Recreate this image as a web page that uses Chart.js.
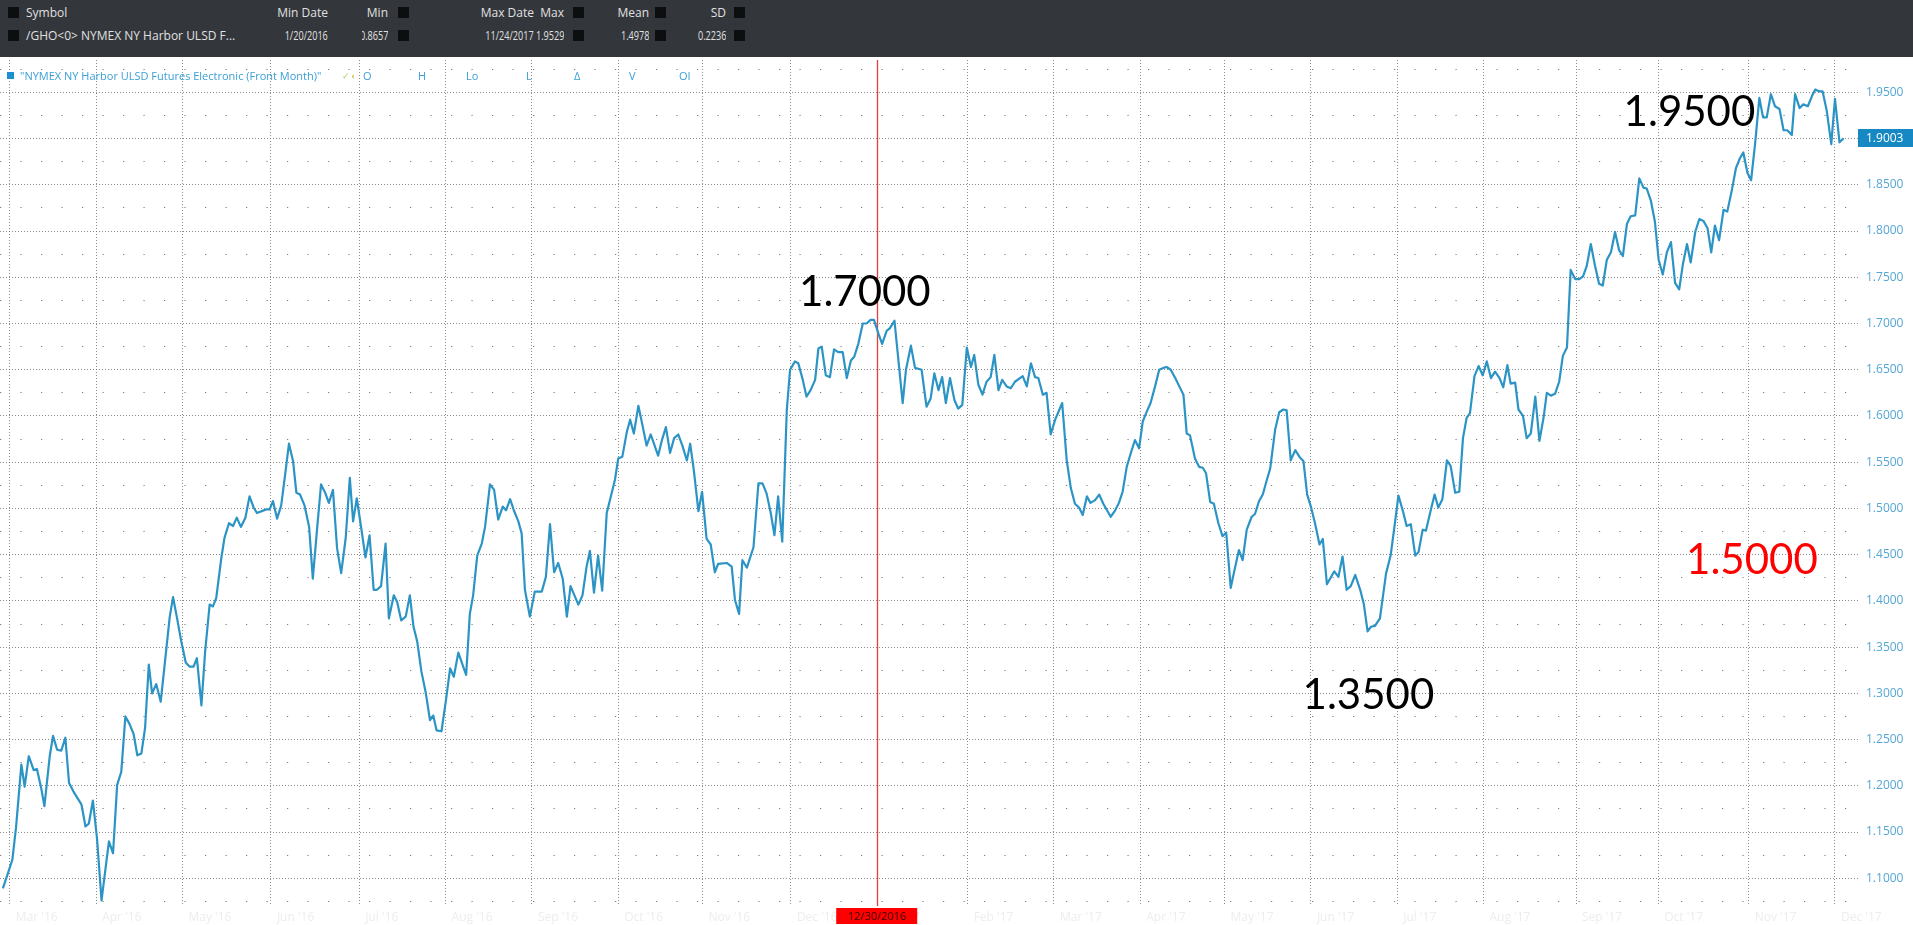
<!DOCTYPE html>
<html>
<head>
<meta charset="utf-8">
<title>NYMEX NY Harbor ULSD Futures Electronic (Front Month)</title>
<script src="https://cdn.jsdelivr.net/npm/chart.js@4.4.1/dist/chart.umd.min.js"></script>
<style>
  html, body { margin: 0; padding: 0; background: #fff; width: 1913px; height: 925px; overflow: hidden; font-family: "Open Sans", sans-serif; }
  #wrap { position: absolute; left: 0; top: 0; width: 1913px; height: 925px; }
  #hdr { position: absolute; left: 0; top: 0; width: 1913px; height: 57px; background: #33363b; color: #e0e0e0; font-size: 12px; z-index: 2; }
  .c { position: absolute; white-space: nowrap; line-height: 16px; }
  .r { text-align: right; }
  .n { height: 16px; overflow: hidden; font-size: 12px; }
  .n span { position: absolute; right: 0; top: 0; transform: scaleX(.76); transform-origin: right center; }
  .sq { position: absolute; width: 11px; height: 11px; background: #0d0e10; }
  #legend { position: absolute; left: 0; top: 68px; height: 16px; font-size: 11px; color: #3a9fd6; z-index: 2; }
</style>
</head>
<body>
<div id="wrap"><canvas id="chart"></canvas></div>

<div id="hdr">
  <div class="sq" style="left:8px;top:7px"></div>
  <div class="c" style="left:26px;top:5px">Symbol</div>
  <div class="c r" style="left:228px;top:5px;width:100px">Min Date</div>
  <div class="c r" style="left:340px;top:5px;width:48px">Min</div>
  <div class="sq" style="left:398px;top:7px"></div>
  <div class="c r" style="left:434px;top:5px;width:100px">Max Date</div>
  <div class="c r" style="left:520px;top:5px;width:44px">Max</div>
  <div class="sq" style="left:573px;top:7px"></div>
  <div class="c r" style="left:600px;top:5px;width:49px">Mean</div>
  <div class="sq" style="left:655px;top:7px"></div>
  <div class="c r" style="left:690px;top:5px;width:36px">SD</div>
  <div class="sq" style="left:734px;top:7px"></div>

  <div class="sq" style="left:8px;top:30px"></div>
  <div class="c" style="left:26px;top:28px">/GHO&lt;0&gt; NYMEX NY Harbor ULSD F...</div>
  <div class="c n" style="left:228px;top:28px;width:100px"><span>1/20/2016</span></div>
  <div class="c n" style="left:362px;top:28px;width:26px"><span>0.8657</span></div>
  <div class="sq" style="left:398px;top:30px"></div>
  <div class="c n" style="left:434px;top:28px;width:100px"><span>11/24/2017</span></div>
  <div class="c n" style="left:536px;top:28px;width:28px"><span>1.9529</span></div>
  <div class="sq" style="left:573px;top:30px"></div>
  <div class="c n" style="left:600px;top:28px;width:49px"><span>1.4978</span></div>
  <div class="sq" style="left:655px;top:30px"></div>
  <div class="c n" style="left:680px;top:28px;width:46px"><span>0.2236</span></div>
  <div class="sq" style="left:734px;top:30px"></div>
</div>

<div id="legend">
  <div class="c" style="left:7px;top:4px;width:7px;height:7px;background:#1e8fd0"></div>
  <div class="c" style="left:20px;top:0">"NYMEX NY Harbor ULSD Futures Electronic (Front Month)"</div>
  <div class="c" style="left:342px;top:0;font-size:9px;color:#a5d36b">✓</div>
  <div class="c" style="left:351px;top:0;font-size:9px;color:#d8cf6a">◐</div>
  <div class="c" style="left:363px;top:0">O</div>
  <div class="c" style="left:418px;top:0">H</div>
  <div class="c" style="left:466px;top:0">Lo</div>
  <div class="c" style="left:526px;top:0">L</div>
  <div class="c" style="left:574px;top:0">Δ</div>
  <div class="c" style="left:629px;top:0">V</div>
  <div class="c" style="left:679px;top:0">OI</div>
</div>

<script>
// x axis = trading days counted from the first session of March 2016
var monthTicks = [0, 21, 42, 63.5, 85, 106, 127, 148, 168.5, 190, 211, 233,
                  254, 275, 295.5, 316.5, 337.5, 358.5, 381, 401, 423, 444];
var monthLabels = ["Mar '16", "Apr '16", "May '16", "Jun '16", "Jul '16", "Aug '16",
                   "Sep '16", "Oct '16", "Nov '16", "Dec '16", "Jan '17", "Feb '17",
                   "Mar '17", "Apr '17", "May '17", "Jun '17", "Jul '17", "Aug '17",
                   "Sep '17", "Oct '17", "Nov '17", "Dec '17"];

// price (USD/gal)
var tradingDay = [
  -1.7, -0.5, 0.6, 1.5, 2.8, 3.6, 4.6, 5.8, 6.6, 7.6,
  8.4, 9.7, 10.5, 11.5, 12.5, 13.5, 14.4, 15.7, 17.4, 18.4,
  19.2, 20.2, 21.2, 22.3, 24.1, 25.1, 26.1, 27.1, 28.1, 29.1,
  30.1, 31.0, 32.0, 32.9, 33.8, 34.6, 35.6, 36.7, 37.8, 38.9,
  39.7, 40.6, 41.7, 42.8, 43.7, 44.7, 45.5, 46.6, 47.5, 48.6,
  49.4, 50.2, 51.4, 52.2, 53.3, 54.3, 55.2, 56.2, 57.3, 58.3,
  59.3, 60.1, 62.4, 63.2, 64.0, 65.0, 66.0, 67.0, 67.9, 68.9,
  69.7, 70.6, 71.7, 72.8, 73.7, 74.7, 75.7, 76.7, 77.6, 78.6,
  79.6, 80.6, 81.7, 82.7, 83.5, 84.4, 85.5, 86.5, 87.5, 88.5,
  89.3, 90.3, 91.4, 92.2, 93.4, 94.2, 95.2, 96.3, 97.3, 98.2,
  99.1, 100.1,
  101.2, 102.2, 103.0, 103.8, 105.0, 106.1, 107.1, 108.0, 109.1, 110.2,
  111.0, 111.9, 112.7, 113.7, 114.8, 115.6, 116.8, 117.8, 118.8, 119.9,
  120.7, 121.7, 122.6, 123.7, 124.5, 125.3, 126.5, 127.7, 129.4, 130.4,
  131.4, 132.4, 133.4, 134.5, 135.5, 136.4, 138.3, 139.3, 140.3, 141.1,
  142.1, 143.1, 144.1, 145.2, 146.2, 147.2, 148.0, 149.0, 150.1, 150.9,
  151.8, 152.9, 153.8, 154.9, 155.9, 157.7, 158.7, 159.6, 160.6, 161.6,
  162.6, 163.6, 164.7, 165.5, 166.4, 167.5, 168.4, 169.5, 170.5, 171.5,
  172.3, 174.4, 175.6, 176.4, 177.4, 178.2, 179.3, 180.9, 182.1, 183.1,
  184.1, 185.1, 186.0, 186.9, 187.9, 189.0, 189.8, 191.0, 191.8, 192.9,
  193.8, 194.8, 195.9, 196.7, 197.5, 198.5, 199.5, 200.5, 201.5, 202.6,
  203.6, 204.6, 205.4, 206.4, 207.5, 208.4, 209.4, 210.2, 211.3, 212.2,
  213.3, 214.1, 215.2,
  217.2, 218.0, 219.2, 220.2, 221.8, 223.0, 224.0, 224.9, 225.9, 226.8,
  227.7, 228.7, 229.8, 230.7, 231.7, 232.8, 233.8, 234.6, 235.6, 236.6,
  237.6, 238.6, 239.5, 240.5, 241.4, 242.5, 243.5, 244.5, 246.4, 247.4,
  248.4, 249.4, 250.2, 251.3, 252.2, 253.2, 254.3, 256.0, 257.1, 258.1,
  259.1, 260.1, 261.0, 262.0, 262.9, 264.0, 265.0, 266.0, 267.8, 268.9,
  269.8, 270.7, 271.7, 272.7, 273.7, 274.7, 275.6, 276.6, 277.5, 278.6,
  279.6, 280.6, 281.4, 282.4, 283.5, 284.5, 285.5, 286.3, 287.1, 288.3,
  289.3, 290.2, 291.0, 292.0, 292.9, 294.0, 295.0, 295.9, 297.0, 297.9,
  299.0, 299.9, 300.9, 302.1, 302.9, 303.9, 304.8, 305.8, 306.6, 307.8,
  308.8, 309.8, 310.6, 311.6, 312.7, 313.7, 314.7, 315.6, 316.5, 317.5,
  318.6, 319.4, 320.4, 321.3, 322.2, 323.2, 324.2, 325.2, 326.2, 327.3,
  328.5, 329.4, 330.3, 331.1, 332.1, 333.3,
  334.8, 335.9, 337.0, 337.8, 338.9, 339.8, 340.8, 341.9, 342.7, 343.7,
  344.5, 345.5, 346.6, 347.5, 348.5, 349.6, 350.5, 351.6, 352.6, 353.5,
  354.4, 355.2, 356.3, 357.3, 358.3, 359.3, 360.3, 361.3, 362.4, 363.3,
  364.3, 365.1, 366.2, 367.0, 368.1, 369.0, 370.0, 371.1, 372.1, 373.1,
  373.9, 374.9, 375.9, 376.9, 377.8, 378.8, 379.7, 380.8, 381.8, 382.7,
  383.6, 384.6, 385.6, 386.6, 387.5, 388.5, 389.5, 390.5, 391.5, 392.4,
  393.4, 394.3, 395.4, 396.4, 397.4, 398.2, 399.2, 400.2, 401.1, 402.1,
  403.1, 404.1, 405.1, 406.1, 407.0, 408.0, 408.9, 410.0, 411.0, 412.0,
  413.0, 413.9, 414.8, 415.8, 416.9, 417.8, 418.9, 419.9, 420.9, 421.7,
  422.7, 423.6, 424.6, 425.6, 426.5, 427.4, 428.4, 429.4, 430.5, 431.5,
  432.4, 433.5, 434.3, 435.4, 436.3, 437.4, 438.4, 439.2, 440.2, 441.0,
  442.0, 443.1, 444.0, 445.1, 446.1
];
var settle = [
  1.089, 1.105, 1.120, 1.155, 1.223, 1.199, 1.232, 1.217, 1.218, 1.198,
  1.178, 1.232, 1.254, 1.239, 1.238, 1.252, 1.203, 1.192, 1.180, 1.156,
  1.159, 1.184, 1.143, 1.076, 1.140, 1.127, 1.201, 1.215, 1.275, 1.267,
  1.256, 1.233, 1.235, 1.263, 1.331, 1.300, 1.310, 1.291, 1.337, 1.383,
  1.404, 1.383, 1.356, 1.333, 1.329, 1.329, 1.338, 1.287, 1.345, 1.396,
  1.394, 1.403, 1.445, 1.468, 1.484, 1.481, 1.490, 1.480, 1.490, 1.513,
  1.501, 1.495, 1.499, 1.499, 1.508, 1.489, 1.503, 1.538, 1.570, 1.551,
  1.517, 1.515, 1.503, 1.480, 1.424, 1.476, 1.526, 1.517, 1.506, 1.520,
  1.457, 1.430, 1.468, 1.533, 1.486, 1.511, 1.478, 1.447, 1.471, 1.412,
  1.412, 1.416, 1.462, 1.381, 1.406, 1.399, 1.379, 1.383, 1.406, 1.372,
  1.356, 1.324,
  1.300, 1.271, 1.276, 1.260, 1.259, 1.293, 1.327, 1.318, 1.344, 1.330,
  1.320, 1.386, 1.406, 1.449, 1.462, 1.480, 1.526, 1.520, 1.488, 1.502,
  1.498, 1.510, 1.498, 1.486, 1.473, 1.412, 1.383, 1.410, 1.410, 1.426,
  1.483, 1.431, 1.441, 1.424, 1.383, 1.416, 1.396, 1.406, 1.437, 1.454,
  1.409, 1.449, 1.411, 1.495, 1.513, 1.531, 1.554, 1.556, 1.583, 1.596,
  1.581, 1.611, 1.592, 1.568, 1.580, 1.557, 1.575, 1.588, 1.560, 1.576,
  1.580, 1.568, 1.552, 1.570, 1.541, 1.497, 1.518, 1.467, 1.461, 1.431,
  1.440, 1.441, 1.437, 1.401, 1.386, 1.444, 1.436, 1.458, 1.527, 1.527,
  1.516, 1.495, 1.471, 1.513, 1.464, 1.606, 1.650, 1.659, 1.657, 1.639,
  1.621, 1.628, 1.639, 1.673, 1.675, 1.644, 1.642, 1.672, 1.669, 1.669,
  1.641, 1.660, 1.664, 1.678, 1.700, 1.700, 1.704, 1.704, 1.689, 1.678,
  1.692, 1.695, 1.703,
  1.614, 1.650, 1.676, 1.652, 1.650, 1.610, 1.619, 1.646, 1.628, 1.642,
  1.614, 1.641, 1.617, 1.608, 1.612, 1.674, 1.653, 1.666, 1.634, 1.623,
  1.637, 1.642, 1.666, 1.628, 1.639, 1.632, 1.630, 1.637, 1.643, 1.632,
  1.657, 1.642, 1.641, 1.623, 1.625, 1.580, 1.596, 1.614, 1.552, 1.522,
  1.505, 1.501, 1.493, 1.513, 1.506, 1.509, 1.515, 1.505, 1.491, 1.498,
  1.506, 1.518, 1.545, 1.560, 1.574, 1.565, 1.594, 1.605, 1.614, 1.632,
  1.650, 1.652, 1.653, 1.650, 1.641, 1.632, 1.623, 1.581, 1.579, 1.554,
  1.545, 1.544, 1.538, 1.507, 1.505, 1.484, 1.470, 1.474, 1.414, 1.433,
  1.455, 1.444, 1.477, 1.491, 1.494, 1.508, 1.515, 1.531, 1.543, 1.585,
  1.604, 1.607, 1.606, 1.552, 1.563, 1.556, 1.551, 1.515, 1.502, 1.484,
  1.461, 1.467, 1.418, 1.425, 1.432, 1.426, 1.448, 1.412, 1.416, 1.428,
  1.412, 1.396, 1.367, 1.372, 1.373, 1.381,
  1.430, 1.449, 1.486, 1.514, 1.497, 1.481, 1.483, 1.449, 1.453, 1.477,
  1.476, 1.495, 1.515, 1.501, 1.510, 1.552, 1.546, 1.517, 1.518, 1.576,
  1.598, 1.603, 1.643, 1.654, 1.644, 1.659, 1.641, 1.648, 1.641, 1.631,
  1.655, 1.635, 1.636, 1.607, 1.600, 1.576, 1.581, 1.621, 1.573, 1.598,
  1.625, 1.622, 1.624, 1.637, 1.665, 1.674, 1.758, 1.748, 1.748, 1.751,
  1.762, 1.786, 1.763, 1.743, 1.741, 1.769, 1.777, 1.799, 1.779, 1.773,
  1.808, 1.816, 1.817, 1.857, 1.847, 1.846, 1.833, 1.810, 1.769, 1.753,
  1.777, 1.788, 1.744, 1.737, 1.764, 1.786, 1.766, 1.799, 1.813, 1.811,
  1.803, 1.777, 1.806, 1.790, 1.823, 1.821, 1.844, 1.868, 1.879, 1.885,
  1.863, 1.855, 1.896, 1.944, 1.923, 1.923, 1.948, 1.935, 1.932, 1.909,
  1.909, 1.904, 1.948, 1.933, 1.937, 1.935, 1.946, 1.953, 1.951, 1.951,
  1.930, 1.894, 1.943, 1.896, 1.9003
];

// crosshair date
var markerDay = 211;
var markerLabel = "12/30/2016";

// big callouts pasted on the chart
var noteText = ["1.7000", "1.9500", "1.3500", "1.5000"];
var noteDay = [208, 408.6, 330.5, 423.8];
var notePrice = [1.734, 1.928, 1.298, 1.444];
var noteColor = ["#000000", "#000000", "#000000", "#ff0000"];

// price grid every 0.025, labels on the 0.05 lines
var priceTicks = [];
for (var k = 43; k <= 79; k++) priceTicks.push(Math.round(k * 25) / 1000);

function isMajor(v) {
  return Math.round(v * 1000) % 50 === 0;
}

var points = tradingDay.map(function (d, i) {
  return { x: d, y: settle[i] };
});

var overlay = {
  id: "overlay",
  beforeDatasetsDraw: function (chart) {
    var ctx = chart.ctx, a = chart.chartArea;
    var x = Math.round(chart.scales.x.getPixelForValue(markerDay)) + 0.5;
    ctx.save();
    ctx.strokeStyle = "#e2403c";
    ctx.lineWidth = 1.3;
    ctx.beginPath();
    ctx.moveTo(x, a.top);
    ctx.lineTo(x, a.bottom);
    ctx.stroke();
    ctx.restore();
  },
  afterDatasetsDraw: function (chart) {
    var ctx = chart.ctx;
    ctx.save();
    ctx.font = "42px Lato";
    ctx.textAlign = "center";
    ctx.textBaseline = "middle";
    for (var i = 0; i < noteText.length; i++) {
      ctx.fillStyle = noteColor[i];
      ctx.fillText(noteText[i], chart.scales.x.getPixelForValue(noteDay[i]), chart.scales.y.getPixelForValue(notePrice[i]));
    }
    ctx.restore();
  },
  afterDraw: function (chart) {
    var ctx = chart.ctx, a = chart.chartArea;
    var last = settle[settle.length - 1];
    var y = Math.round(chart.scales.y.getPixelForValue(last));
    ctx.save();
    // last value tag on the price axis
    ctx.fillStyle = "#1688c3";
    ctx.fillRect(a.right, y - 9, chart.width - a.right, 18);
    ctx.fillStyle = "#ffffff";
    ctx.font = "12px 'Open Sans'";
    ctx.textAlign = "left";
    ctx.textBaseline = "middle";
    ctx.fillText(last.toFixed(4), a.right + 8, y + 1);
    // date tag under the crosshair
    var x = chart.scales.x.getPixelForValue(markerDay);
    ctx.fillStyle = "#ff0000";
    ctx.fillRect(x - 41, a.bottom + 2, 81, 16);
    ctx.fillStyle = "#3a0000";
    ctx.font = "11px 'Open Sans'";
    ctx.textAlign = "center";
    ctx.fillText(markerLabel, x, a.bottom + 10.5);
    ctx.restore();
  }
};

new Chart(document.getElementById("chart"), {
  type: "line",
  data: {
    datasets: [
      {
        label: "NYMEX NY Harbor ULSD Futures Electronic (Front Month)",
        data: points,
        borderColor: "#2c94c5",
        borderWidth: 2.2,
        borderJoinStyle: "round",
        pointRadius: 0,
        tension: 0,
        fill: false,
      },
    ],
  },
  options: {
    responsive: true,
    maintainAspectRatio: false,
    animation: false,
    layout: { padding: { top: 60, left: 0, right: 0, bottom: 0 } },
    plugins: {
      legend: { display: false },
      tooltip: { enabled: false },
    },
    scales: {
      x: {
        type: "linear",
        min: -2.4,
        max: 449.6,
        afterBuildTicks: function (scale) {
          scale.ticks = monthTicks.map(function (v) { return { value: v }; });
        },
        afterFit: function (scale) { scale.height = 19; },
        ticks: {
          autoSkip: false,
          maxRotation: 0,
          align: "start",
          labelOffset: 6,
          padding: 4,
          color: "#ededed",
          font: { family: "Open Sans", size: 12 },
          callback: function (value, index) { return monthLabels[index]; },
        },
        grid: { drawTicks: false, color: "rgba(100,100,100,0.75)", lineWidth: 1 },
        border: { display: false, dash: [1, 2] },
      },
      y: {
        position: "right",
        min: 1.07,
        max: 1.985,
        afterBuildTicks: function (scale) {
          scale.ticks = priceTicks.map(function (v) { return { value: v }; });
        },
        afterFit: function (scale) { scale.width = 55; },
        ticks: {
          autoSkip: false,
          padding: 8,
          color: "#55a6d4",
          font: { family: "Open Sans", size: 12 },
          callback: function (value) { return isMajor(value) ? value.toFixed(4) : ""; },
        },
        grid: {
          drawTicks: false,
          lineWidth: 1,
          color: function (ctx) {
            if (!ctx.tick) return "rgba(100,100,100,0.75)";
            return isMajor(ctx.tick.value) ? "rgba(100,100,100,0.75)" : "rgba(110,110,110,0.9)";
          },
        },
        border: {
          display: false,
          dash: function (ctx) {
            if (!ctx.tick) return [];
            return isMajor(ctx.tick.value) ? [1, 2] : [1.2, 19.3];
          },
        },
      },
    },
  },
  plugins: [overlay],
});
</script>
</body>
</html>
